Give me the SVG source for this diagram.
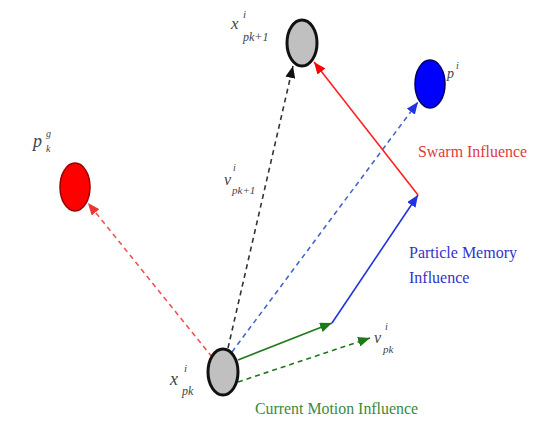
<svg xmlns="http://www.w3.org/2000/svg" width="538" height="425" viewBox="0 0 538 425">
<style>
text{font-family:'Liberation Serif','Times New Roman',Times,serif}
.lbl{font-style:italic;fill:#444}
.cap{font-size:16px}
.dash{stroke-dasharray:5,4;stroke-width:1.6;fill:none}
.sol{stroke-width:1.6;fill:none}
</style>
<defs>
<marker id="aR" viewBox="0 0 12 10" markerUnits="userSpaceOnUse" markerWidth="12" markerHeight="10" refX="12" refY="5" orient="auto"><path d="M0,0L12,5L0,10z" fill="#ff0000"/></marker>
<marker id="aRl" viewBox="0 0 12 10" markerUnits="userSpaceOnUse" markerWidth="12" markerHeight="10" refX="12" refY="5" orient="auto"><path d="M0,0L12,5L0,10z" fill="#ee3333"/></marker>
<marker id="aK" viewBox="0 0 12 10" markerUnits="userSpaceOnUse" markerWidth="12" markerHeight="10" refX="12" refY="5" orient="auto"><path d="M0,0L12,5L0,10z" fill="#111"/></marker>
<marker id="aB" viewBox="0 0 12 10" markerUnits="userSpaceOnUse" markerWidth="12" markerHeight="10" refX="12" refY="5" orient="auto"><path d="M0,0L12,5L0,10z" fill="#2233dd"/></marker>
<marker id="aG" viewBox="0 0 12 10" markerUnits="userSpaceOnUse" markerWidth="12" markerHeight="10" refX="12" refY="5" orient="auto"><path d="M0,0L12,5L0,10z" fill="#1a7a1a"/></marker>
</defs>
<g id="connectors">
<line class="dash" x1="212" y1="357" x2="88" y2="203" stroke="#ee5555" marker-end="url(#aRl)"/>
<line class="dash" x1="228" y1="348" x2="293" y2="66" stroke="#333" marker-end="url(#aK)"/>
<line class="dash" x1="232" y1="352" x2="418" y2="102" stroke="#4466cc" marker-end="url(#aB)"/>
<line class="sol" x1="238" y1="360" x2="332" y2="323" stroke="#1a7a1a" marker-end="url(#aG)"/>
<line class="sol" x1="332" y1="323" x2="418" y2="195" stroke="#2233dd" marker-end="url(#aB)"/>
<line class="sol" x1="418" y1="195" x2="314" y2="62" stroke="#ff2222" marker-end="url(#aR)"/>
<line class="dash" x1="238" y1="382" x2="370" y2="338" stroke="#1a7a1a" marker-end="url(#aG)"/>
</g>
<g id="node-xpk">
<ellipse cx="223" cy="372" rx="15" ry="23" fill="#c0c0c0" stroke="#111" stroke-width="3"/>
<text class="lbl" x="170" y="385" font-size="18">x</text>
<text class="lbl" x="184" y="372" font-size="11">i</text>
<text class="lbl" x="182" y="395" font-size="12">pk</text>
</g>
<g id="node-xpk1">
<ellipse cx="302" cy="43" rx="15" ry="23" fill="#c0c0c0" stroke="#111" stroke-width="3"/>
<text class="lbl" x="231" y="29" font-size="17">x</text>
<text class="lbl" x="243" y="18" font-size="11">i</text>
<text class="lbl" x="243" y="41" font-size="12">pk+1</text>
</g>
<g id="node-pi">
<ellipse cx="430" cy="84" rx="15" ry="24" fill="#0000ff" stroke="#000066" stroke-width="1.5"/>
<text class="lbl" x="447" y="78" font-size="14">p</text>
<text class="lbl" x="456" y="69" font-size="10">i</text>
</g>
<g id="node-pg">
<ellipse cx="75" cy="187" rx="15" ry="24" fill="#ff0000" stroke="#990000" stroke-width="1.5"/>
<text class="lbl" x="33" y="147" font-size="18">p</text>
<text class="lbl" x="46" y="137" font-size="10">g</text>
<text class="lbl" x="46" y="152" font-size="10">k</text>
</g>
<g id="label-vpk1">
<text class="lbl" x="224" y="185" font-size="16">v</text>
<text class="lbl" x="233" y="171" font-size="10">i</text>
<text class="lbl" x="232" y="194" font-size="11">pk+1</text>
</g>
<g id="label-vpk">
<text class="lbl" x="374" y="343" font-size="16">v</text>
<text class="lbl" x="385" y="330" font-size="10">i</text>
<text class="lbl" x="383" y="353" font-size="11">pk</text>
</g>
<g id="captions">
<text class="cap" x="418" y="157" fill="#e03a3a" textLength="109" lengthAdjust="spacingAndGlyphs">Swarm Influence</text>
<text class="cap" x="409" y="258" fill="#3333cc" textLength="108" lengthAdjust="spacingAndGlyphs">Particle Memory</text>
<text class="cap" x="409" y="283" fill="#3333cc">Influence</text>
<text class="cap" x="255" y="414" fill="#3a8a3a" textLength="163" lengthAdjust="spacingAndGlyphs">Current Motion Influence</text>
</g>
</svg>
